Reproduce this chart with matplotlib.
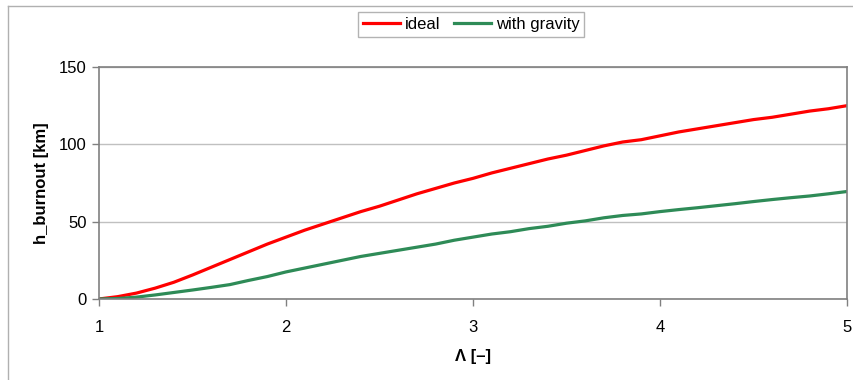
import matplotlib.pyplot as plt
from matplotlib.lines import Line2D

plt.rcParams["font.family"] = ["Liberation Sans", "DejaVu Sans"]

# Lambda values (mass ratio)
lam = [1.0, 1.1, 1.2, 1.3, 1.4, 1.5, 1.6, 1.7, 1.8, 1.9,
       2.0, 2.1, 2.2, 2.3, 2.4, 2.5, 2.6, 2.7, 2.8, 2.9,
       3.0, 3.1, 3.2, 3.3, 3.4, 3.5, 3.6, 3.7, 3.8, 3.9,
       4.0, 4.1, 4.2, 4.3, 4.4, 4.5, 4.6, 4.7, 4.8, 4.9, 5.0]

# burnout altitude [km]
h_ideal = [0, 1.5, 3.8, 7, 10.8, 15.5, 20.5, 25.5, 30.5, 35.5,
           40, 44.5, 48.5, 52.5, 56.5, 60, 64, 68, 71.5, 75,
           78, 81.5, 84.5, 87.5, 90.5, 93, 96, 99, 101.5, 103,
           105.5, 108, 110, 112, 114, 116, 117.5, 119.5, 121.5, 123, 125]
h_gravity = [0, 0.3, 1.2, 2.6, 4.2, 5.8, 7.5, 9.3, 12, 14.5,
             17.5, 20, 22.5, 25, 27.5, 29.5, 31.5, 33.5, 35.5, 38,
             40, 42, 43.5, 45.5, 47, 49, 50.5, 52.5, 54, 55,
             56.5, 57.8, 59, 60.3, 61.6, 63, 64.3, 65.5, 66.6, 68, 69.5]

fig = plt.figure(figsize=(8.54, 3.80), dpi=100)
ax = fig.add_axes([0.1159, 0.2132, 0.876, 0.6105])

ax.plot(lam, h_ideal, color="#ff0000", lw=2.3, label="ideal")
ax.plot(lam, h_gravity, color="#2e8b57", lw=2.3, label="with gravity")

ax.set_xlim(1, 5)
ax.set_ylim(0, 150)
ax.set_xticks([1, 2, 3, 4, 5])
ax.set_yticks([0, 50, 100, 150])
ax.yaxis.grid(True, color="#c0c0c0", lw=1)
ax.set_axisbelow(True)

for s in ax.spines.values():
    s.set_color("#808080")
    s.set_linewidth(1.2)

ax.tick_params(axis="both", labelsize=12, color="#808080", length=5,
               width=1, pad=4)
ax.tick_params(axis="x", pad=10)
ax.set_xlabel("Λ [–]", fontsize=12, fontweight="bold", labelpad=10)
ax.set_ylabel("h_burnout [km]", fontsize=12, fontweight="bold", labelpad=7)

leg = ax.legend(loc="center", bbox_to_anchor=(0.552, 0.935),
                bbox_transform=fig.transFigure, ncol=2, fontsize=12,
                frameon=True, fancybox=False, handlelength=2.2,
                handletextpad=0.3, columnspacing=0.8, borderpad=0.3)
leg.get_frame().set_edgecolor("#a0a0a0")
leg.get_frame().set_linewidth(1)

# chart area border
fig.add_artist(Line2D([8 / 854, 8 / 854], [0, 1 - 6 / 380],
                      transform=fig.transFigure, color="#b0b0b0", lw=1))
fig.add_artist(Line2D([8 / 854, 1], [1 - 6 / 380, 1 - 6 / 380],
                      transform=fig.transFigure, color="#b0b0b0", lw=1))

fig.savefig("out.png", dpi=100)
